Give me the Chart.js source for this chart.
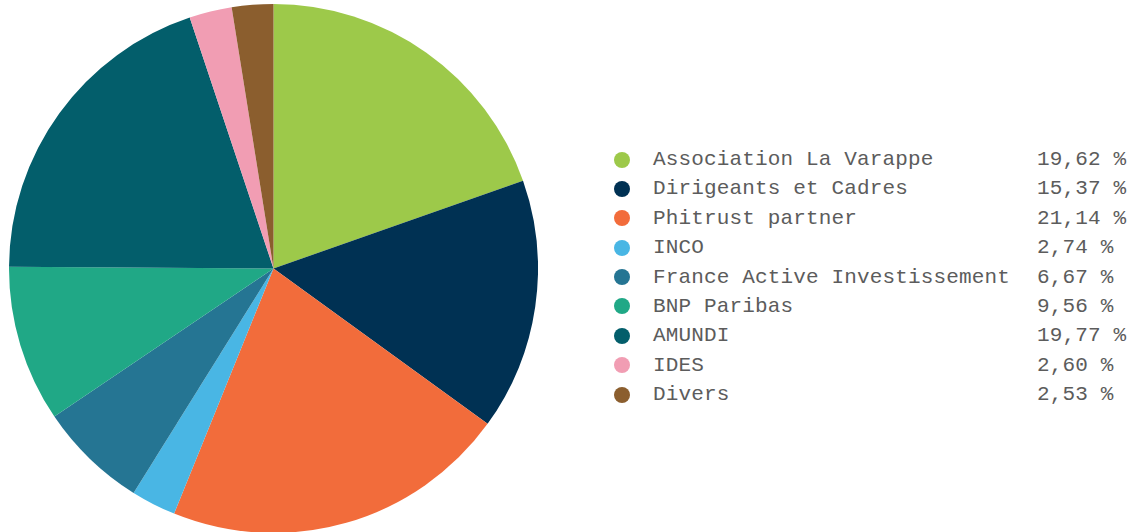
<!DOCTYPE html>
<html>
<head>
<meta charset="utf-8">
<script src="https://cdn.jsdelivr.net/npm/chart.js@4"></script>
<style>
  html, body { margin: 0; padding: 0; background: #fff; overflow: hidden; }
  #wrap { position: relative; width: 1135px; height: 532px; }
  #pieBox { position: absolute; left: 9px; top: 4px; width: 529px; height: 529px; }
  #legend { position: absolute; left: 612px; top: 145px; font-family: "Liberation Mono", monospace;
            font-size: 21px; letter-spacing: 0.15px; color: #5c5c5c; }
  .row { position: relative; height: 29.4px; line-height: 29.4px; white-space: pre; }
  .dot { position: absolute; left: 2px; top: 6.5px; width: 16px; height: 16px; border-radius: 50%; }
  .lbl { position: absolute; left: 41px; top: 0; }
  .val { position: absolute; left: 425px; top: 0; }
</style>
</head>
<body>
<div id="wrap">
  <div id="pieBox"><canvas id="pie"></canvas></div>
  <div id="legend"></div>
</div>
<script>
const labels = ['Association La Varappe', 'Dirigeants et Cadres', 'Phitrust partner', 'INCO',
  'France Active Investissement', 'BNP Paribas', 'AMUNDI', 'IDES', 'Divers'];
const values = [19.62, 15.37, 21.14, 2.74, 6.67, 9.56, 19.77, 2.60, 2.53];
const colors = ['#9dc94a', '#003153', '#f26c3b', '#49b6e4', '#257593', '#20a886', '#035e6b', '#f19db3', '#8b5e2e'];

// legend
const legend = document.getElementById('legend');
labels.forEach((name, i) => {
  const row = document.createElement('div');
  row.className = 'row';
  const txt = values[i].toFixed(2).replace('.', ',') + ' %';
  row.innerHTML = '<span class="dot" style="background:' + colors[i] + '"></span>' +
    '<span class="lbl">' + name + '</span><span class="val">' + txt + '</span>';
  legend.appendChild(row);
});

const ctx = document.getElementById('pie').getContext('2d');
const chart = new Chart(ctx, {
  type: 'pie',
  data: {
    labels: labels,
    datasets: [{ data: values, backgroundColor: colors, borderWidth: 0 }]
  },
  options: {
    responsive: true,
    maintainAspectRatio: false,
    animation: false,
    layout: { padding: 0 },
    plugins: { legend: { display: false }, tooltip: { enabled: false } }
  }
});
</script>
</body>
</html>
